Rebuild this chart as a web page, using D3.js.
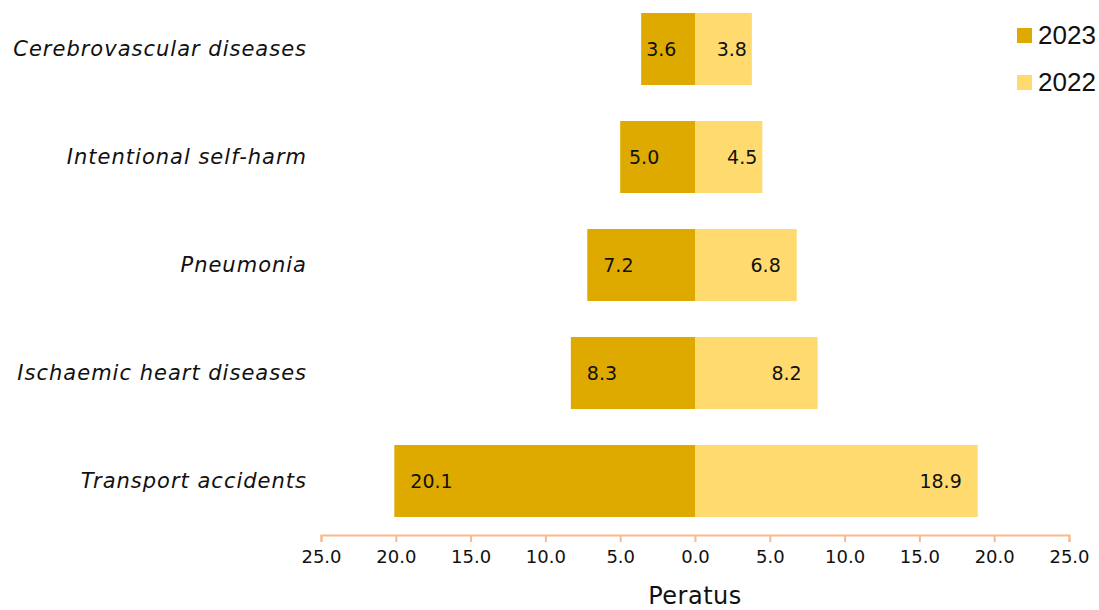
<!DOCTYPE html>
<html>
<head>
<meta charset="utf-8">
<script src="https://cdn.jsdelivr.net/npm/d3@7"></script>
<style>
  body { margin: 0; background: #fff; }
  #chart text { font-family: "DejaVu Sans", sans-serif; }
</style>
</head>
<body>
<div id="chart"></div>
<script>
// data
const causes = ["Cerebrovascular diseases", "Intentional self-harm", "Pneumonia", "Ischaemic heart diseases", "Transport accidents"];
const values2023 = [3.6, 5.0, 7.2, 8.3, 20.1];
const values2022 = [3.8, 4.5, 6.8, 8.2, 18.9];
const seriesNames = ["2023", "2022"];
const tickValues = [-25, -20, -15, -10, -5, 0, 5, 10, 15, 20, 25];

const colors = { "2023": "#DFAA00", "2022": "#FFDB6F" };
const axisColor = "#F9B98C";

const W = 1099, H = 610;
const svg = d3.select("#chart").append("svg")
  .attr("width", W).attr("height", H);

const x = d3.scaleLinear().domain([-25, 25]).range([321, 1069]);
const y = d3.scaleBand().domain(causes).range([-5, 535])
  .paddingInner(1 / 3).paddingOuter(1 / 6);

const rows = causes.map((c, i) => ({ cause: c, v23: values2023[i], v22: values2022[i] }));

// bars 2023 (left side)
svg.selectAll(".bar23").data(rows).enter().append("rect")
  .attr("x", d => x(-d.v23))
  .attr("y", d => y(d.cause))
  .attr("width", d => x(0) - x(-d.v23))
  .attr("height", y.bandwidth())
  .attr("fill", colors["2023"]);

// bars 2022 (right side)
svg.selectAll(".bar22").data(rows).enter().append("rect")
  .attr("x", x(0))
  .attr("y", d => y(d.cause))
  .attr("width", d => x(d.v22) - x(0))
  .attr("height", y.bandwidth())
  .attr("fill", colors["2022"]);

const pad = w => Math.max(5, Math.min(16, w - 66));

// value labels
svg.selectAll(".lab23").data(rows).enter().append("text")
  .attr("x", d => x(-d.v23) + pad(x(0) - x(-d.v23)))
  .attr("y", d => y(d.cause) + y.bandwidth() / 2)
  .attr("dy", "0.35em")
  .attr("text-anchor", "start")
  .style("font-size", "19px")
  .style("fill", "#111")
  .text(d => d3.format(".1f")(d.v23));

svg.selectAll(".lab22").data(rows).enter().append("text")
  .attr("x", d => x(d.v22) - pad(x(d.v22) - x(0)))
  .attr("y", d => y(d.cause) + y.bandwidth() / 2)
  .attr("dy", "0.35em")
  .attr("text-anchor", "end")
  .style("font-size", "19px")
  .style("fill", "#111")
  .text(d => d3.format(".1f")(d.v22));

// category labels
svg.selectAll(".cat").data(causes).enter().append("text")
  .attr("x", 307)
  .attr("y", d => y(d) + y.bandwidth() / 2)
  .attr("dy", "0.35em")
  .attr("text-anchor", "end")
  .style("font-size", "21px")
  .style("letter-spacing", "1px")
  .style("font-style", "italic")
  .style("fill", "#111")
  .text(d => d);

// x axis
const xAxis = svg.append("g")
  .attr("transform", "translate(0,535)")
  .call(d3.axisBottom(x).tickValues(tickValues)
    .tickFormat(d => d3.format(".1f")(Math.abs(d)))
    .tickSize(7).tickSizeOuter(7).tickPadding(8));
xAxis.select(".domain").attr("stroke", axisColor).attr("stroke-width", 2);
xAxis.selectAll(".tick line").attr("stroke", axisColor).attr("stroke-width", 2);
xAxis.selectAll(".tick text")
  .style("font-size", "18px")
  .style("fill", "#111");

svg.append("text")
  .attr("x", x(0))
  .attr("y", 604)
  .attr("text-anchor", "middle")
  .style("font-size", "24px")
  .style("letter-spacing", "0.5px")
  .style("fill", "#111")
  .text("Peratus");

// legend
const legend = svg.selectAll(".legend").data(seriesNames).enter().append("g")
  .attr("transform", (d, i) => `translate(1017, ${35 + i * 47})`);
legend.append("rect")
  .attr("x", 0).attr("y", -7)
  .attr("width", 15).attr("height", 15)
  .attr("fill", d => colors[d]);
legend.append("text")
  .attr("x", 21).attr("y", 0)
  .attr("dy", "0.35em")
  .style("font-family", "'Liberation Sans', Arial, sans-serif")
  .style("font-size", "26px")
  .style("fill", "#111")
  .text(d => d);
</script>
</body>
</html>
